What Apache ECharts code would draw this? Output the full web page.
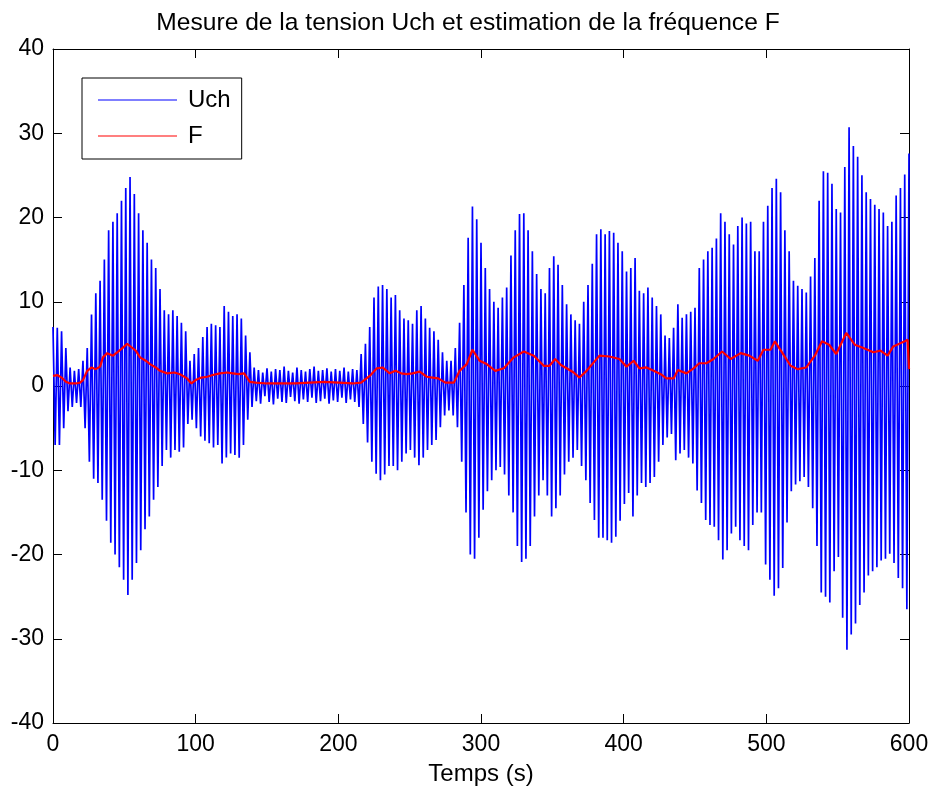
<!DOCTYPE html>
<html>
<head>
<meta charset="utf-8">
<script src="https://cdn.jsdelivr.net/npm/echarts@6/dist/echarts.min.js"></script>
<style>
html,body{margin:0;padding:0;background:#fff;}
#chart{width:936px;height:796px;}
</style>
</head>
<body>
<div id="chart"></div>
<script>
// ---- Data ----
// Uch: positive peaks, one every 3 s starting at t = 0
var uchPeakStart = 0, uchPeakStep = 3;
var uchPeaks = [
  7.0, 6.9, 6.5, 4.5, 2.2, 1.8, 2.0, 3.0, 4.5, 8.5,
  11.0, 12.5, 15.0, 18.5, 19.5, 20.5, 22.0, 23.5, 24.8, 22.8,
  20.5, 18.5, 17.0, 15.0, 14.0, 11.5, 9.0, 8.5, 9.0, 8.3,
  7.5, 6.5, 3.0, 3.8, 4.5, 5.8, 7.0, 7.4, 7.2, 7.0,
  9.5, 8.8, 8.3, 8.5, 8.0, 6.0, 4.0, 2.2, 1.9, 1.6,
  2.1, 1.7, 2.0, 1.9, 2.3, 1.8, 1.6, 2.2, 1.9, 1.7,
  2.0, 2.3, 1.8, 1.9, 2.1, 1.7, 2.0, 1.8, 2.2, 1.7,
  2.0, 1.9, 3.8, 5.0, 7.0, 10.5, 11.8, 12.0, 11.5, 10.5,
  10.8, 9.0, 8.0, 7.8, 7.4, 9.0, 9.5, 8.0, 6.9, 6.5,
  5.5, 4.0, 3.0, 3.0, 4.5, 7.5, 12.0, 17.6, 21.3, 19.8,
  17.0, 14.0, 11.5, 10.0, 9.3, 10.5, 11.7, 15.5, 18.5, 20.4,
  20.5, 18.5, 16.0, 13.3, 11.5, 11.0, 14.0, 15.4, 14.4, 12.0,
  9.7, 8.5, 7.8, 7.4, 10.0, 12.0, 14.5, 18.0, 18.6, 18.0,
  18.4, 18.2, 17.0, 16.0, 13.6, 14.0, 15.2, 11.3, 11.0, 11.7,
  10.5, 9.5, 8.5, 6.0, 5.7, 6.9, 9.7, 8.1, 8.5, 8.8,
  9.3, 14.0, 15.0, 16.0, 16.4, 17.5, 20.5, 19.5, 18.0, 16.8,
  19.0, 20.0, 19.3, 19.5, 16.0, 16.0, 19.5, 21.4, 23.5, 24.6,
  23.0, 18.5, 16.0, 12.5, 11.9, 11.5, 11.1, 13.0, 15.2, 22.0,
  25.5, 25.3, 24.0, 21.0, 20.6, 26.0, 30.7, 28.5, 27.2, 25.0,
  23.0, 22.2, 21.5, 21.0, 20.6, 19.0, 19.5, 22.6, 23.5, 25.1,
  27.6
];
// Uch: negative troughs, one every 3 s starting at t = 1.5
var uchTroughStart = 1.5, uchTroughStep = 3;
var uchTroughs = [
  -7.0, -7.0, -5.0, -3.0, -2.5, -2.0, -2.5, -5.0, -9.0, -11.0,
  -11.5, -13.5, -16.0, -18.6, -20.0, -21.5, -23.0, -24.8, -23.0, -21.0,
  -19.5, -17.0, -15.5, -13.5, -12.0, -9.5, -7.6, -8.5, -7.6, -7.8,
  -7.3, -4.5, -4.0, -5.0, -6.0, -6.5, -6.8, -7.3, -7.0, -9.2,
  -8.5, -8.0, -8.2, -8.5, -7.0, -4.0, -2.5, -1.8, -2.1, -1.2,
  -1.9, -2.2, -1.5, -1.9, -2.0, -1.3, -1.8, -2.1, -1.6, -1.9,
  -1.4, -2.0, -1.8, -1.5, -2.1, -1.7, -1.9, -1.4, -2.0, -1.6,
  -1.9, -2.5, -4.5, -6.7, -9.0, -10.4, -11.2, -10.5, -9.5, -9.5,
  -10.0, -9.0, -8.0, -7.6, -8.5, -9.4, -8.5, -7.6, -7.0, -6.4,
  -4.9, -3.5, -2.9, -3.5, -4.9, -9.0, -15.0, -20.0, -20.5, -18.0,
  -14.7, -12.5, -11.2, -10.0, -9.6, -10.5, -13.0, -15.0, -19.0, -20.9,
  -20.5, -19.0, -15.5, -13.0, -11.2, -13.0, -15.5, -14.5, -13.0, -10.5,
  -9.0, -8.5, -7.6, -9.5, -11.2, -13.9, -15.9, -18.0, -18.0, -18.3,
  -18.6, -17.9, -16.0, -14.0, -12.7, -15.5, -13.0, -11.5, -12.0, -11.5,
  -10.8, -9.0, -7.0, -6.1, -5.7, -8.8, -8.0, -7.6, -8.5, -9.2,
  -12.4, -13.9, -15.9, -16.5, -16.7, -18.3, -20.6, -19.5, -17.5, -16.7,
  -18.3, -19.0, -19.5, -16.5, -15.0, -15.0, -21.2, -23.0, -24.9, -24.0,
  -21.6, -16.2, -12.5, -11.7, -11.3, -10.8, -12.0, -14.5, -19.0, -24.5,
  -25.0, -25.7, -22.0, -20.3, -27.5, -31.3, -29.5, -28.2, -26.0, -24.5,
  -22.5, -22.0, -21.5, -20.7, -20.5, -19.9, -21.0, -22.8, -24.0, -26.5
];
// F: frequency estimate
var fTime = [
  0, 3, 6, 9, 12, 16, 19, 21, 24, 27, 30, 33, 35, 38, 42, 45, 48, 52, 55, 58,
  61, 65, 68, 72, 75, 80, 85, 89, 94, 97, 100, 104, 108, 112, 117, 122, 126, 130, 134, 138,
  142, 150, 160, 170, 180, 190, 200, 210, 216, 222, 227, 231, 236, 240, 244, 248, 252, 257, 262, 266,
  270, 275, 281, 285, 290, 294, 299, 304, 310, 316, 323, 330, 337, 344, 348, 352, 356, 360, 365, 369,
  374, 379, 383, 390, 397, 402, 407, 411, 416, 421, 426, 430, 435, 438, 444, 449, 453, 458, 463, 469,
  475, 482, 488, 494, 498, 503, 506, 511, 517, 522, 528, 534, 539, 544, 549, 556, 562, 568, 575, 580,
  585, 589, 597, 599, 600
];
var fValue = [
  1.2, 1.3, 1.0, 0.5, 0.3, 0.3, 0.4, 0.7, 1.8, 2.2, 2.0, 2.3, 3.4, 3.9, 3.6, 4.0, 4.4, 5.0, 4.6, 4.2,
  3.4, 3.0, 2.6, 2.2, 1.8, 1.5, 1.6, 1.4, 0.9, 0.3, 0.7, 1.0, 1.1, 1.3, 1.5, 1.6, 1.5, 1.4, 1.5, 0.5,
  0.4, 0.3, 0.3, 0.3, 0.4, 0.5, 0.4, 0.3, 0.4, 1.2, 2.1, 2.2, 1.5, 1.8, 1.5, 1.4, 1.5, 1.7, 1.1, 1.0,
  0.9, 0.4, 0.4, 1.8, 2.6, 4.3, 3.0, 2.6, 1.8, 2.1, 3.4, 4.1, 3.6, 2.4, 2.4, 3.2, 2.5, 2.1, 1.6, 1.0,
  1.8, 2.8, 3.6, 3.5, 3.2, 2.3, 3.0, 2.1, 2.2, 1.8, 1.4, 0.9, 0.9, 1.9, 1.5, 2.1, 2.7, 2.7, 3.2, 4.1,
  3.2, 3.9, 3.6, 3.0, 4.3, 4.3, 5.3, 4.0, 2.4, 2.0, 2.2, 3.6, 5.3, 4.9, 3.8, 6.3, 4.9, 4.5, 4.0, 4.2,
  3.6, 4.7, 5.3, 5.5, 2.0
];
var xTicks = { min: 0, max: 600, step: 100 };
var yTicks = { min: -40, max: 40, step: 10 };
var titleText = 'Mesure de la tension Uch et estimation de la fréquence F';
var xLabel = 'Temps (s)';
var seriesNames = ['Uch', 'F'];

// ---- Build series data ----
var uchData = [];
var n = Math.max(uchPeaks.length, uchTroughs.length);
for (var i = 0; i < n; i++) {
  if (i < uchPeaks.length) uchData.push([uchPeakStart + i * uchPeakStep, uchPeaks[i]]);
  if (i < uchTroughs.length) uchData.push([uchTroughStart + i * uchTroughStep, uchTroughs[i]]);
}
var fData = fTime.map(function (t, k) { return [t, fValue[k]]; });

var FONT = 'Liberation Sans';
var chart = echarts.init(document.getElementById('chart'), null, { renderer: 'canvas' });

function axisCommon(showLabels) {
  return {
    axisLine: { show: true, onZero: false, lineStyle: { color: '#000', width: 1 } },
    axisTick: { show: true, inside: true, length: 9, lineStyle: { color: '#000', width: 1 } },
    splitLine: { show: false },
    axisLabel: { show: showLabels, color: '#000', fontFamily: FONT, fontSize: 23 }
  };
}

var xb = Object.assign({
  type: 'value', position: 'bottom', min: xTicks.min, max: xTicks.max, interval: xTicks.step,
  name: xLabel, nameLocation: 'middle', nameGap: 39,
  nameTextStyle: { color: '#000', fontFamily: FONT, fontSize: 24 }
}, axisCommon(true));
xb.axisLabel.margin = 10;
var xt = Object.assign({ type: 'value', position: 'top', min: xTicks.min, max: xTicks.max, interval: xTicks.step }, axisCommon(false));
var yl = Object.assign({ type: 'value', position: 'left', min: yTicks.min, max: yTicks.max, interval: yTicks.step }, axisCommon(true));
yl.axisLabel.margin = 9;
var yr = Object.assign({ type: 'value', position: 'right', min: yTicks.min, max: yTicks.max, interval: yTicks.step }, axisCommon(false));

chart.setOption({
  animation: false,
  backgroundColor: '#fff',
  title: {
    text: titleText, left: 'center', top: 6,
    textStyle: { color: '#000', fontFamily: FONT, fontSize: 24.6, fontWeight: 'normal' }
  },
  grid: { left: 53, right: 27, top: 49, bottom: 73, containLabel: false },
  legend: {
    data: seriesNames,
    orient: 'vertical', left: 82, top: 78,
    icon: 'rect', itemWidth: 79, itemHeight: 1, itemGap: 12,
    padding: [10, 11, 11, 16],
    backgroundColor: '#fff', borderColor: '#000', borderWidth: 1, borderRadius: 0,
    textStyle: { color: '#000', fontFamily: FONT, fontSize: 24, padding: [0, 0, 0, 6] }
  },
  xAxis: [xb, xt],
  yAxis: [yl, yr],
  series: [
    {
      name: seriesNames[0], type: 'line', data: uchData, xAxisIndex: 0, yAxisIndex: 0,
      showSymbol: false, symbol: 'none', color: '#0000ff',
      lineStyle: { color: '#0000ff', width: 1.7, join: 'bevel' }, z: 2
    },
    {
      name: seriesNames[1], type: 'line', data: fData, xAxisIndex: 0, yAxisIndex: 0,
      showSymbol: false, symbol: 'none', color: '#ff0000',
      lineStyle: { color: '#ff0000', width: 2.2 }, z: 3
    }
  ]
});
</script>
</body>
</html>
